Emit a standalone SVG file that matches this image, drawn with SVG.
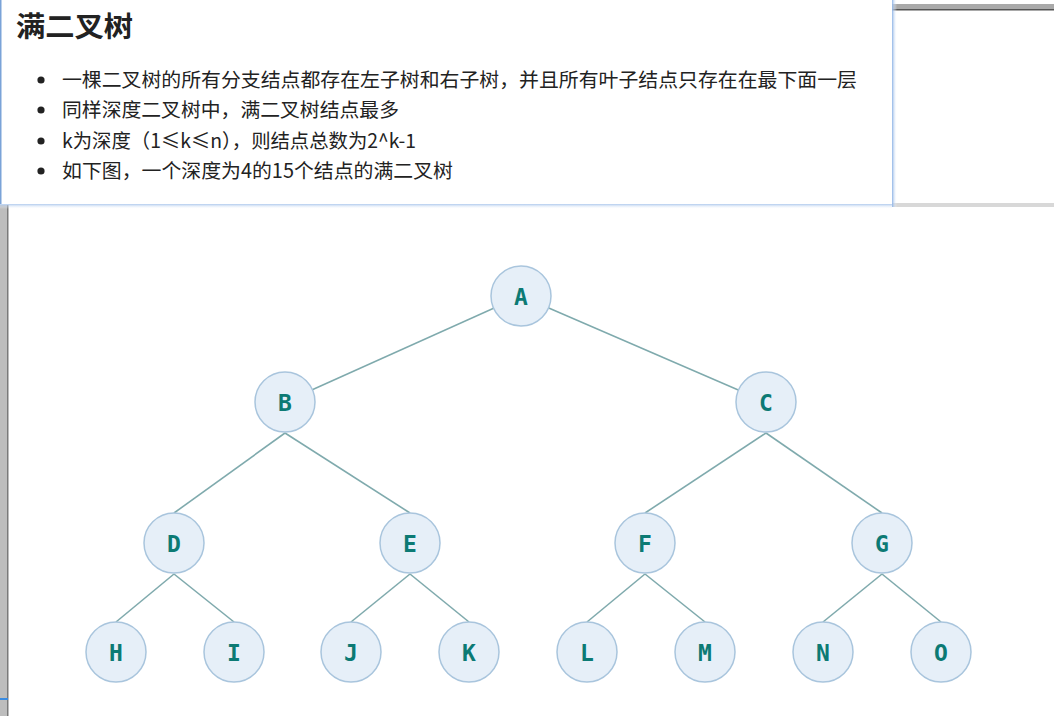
<svg xmlns="http://www.w3.org/2000/svg" width="1054" height="716" viewBox="0 0 1054 716">
<defs>
<linearGradient id="rshadow" x1="0" x2="1" y1="0" y2="0">
<stop offset="0" stop-color="#8fb4e6"/>
<stop offset="1" stop-color="#ffffff" stop-opacity="0"/>
</linearGradient>
<linearGradient id="bshadow" x1="0" x2="0" y1="0" y2="1">
<stop offset="0" stop-color="#8fb4e6"/>
<stop offset="1" stop-color="#ffffff" stop-opacity="0"/>
</linearGradient>
</defs>
<style>
.node circle{fill:#e6eff8;stroke:#a9c5dd;stroke-width:1.5}
.node text{font-family:"DejaVu Sans Mono",monospace;font-size:23px;font-weight:bold;fill:#0c7a74;text-anchor:middle;dominant-baseline:central}
#connectors line{stroke:#7faaad;stroke-width:1.6}
.cn{font-family:"Noto Sans CJK SC",sans-serif;font-size:19.8px;fill:#222}
</style>
<rect width="1054" height="716" fill="#ffffff"/>
<rect x="0" y="205" width="8" height="511" fill="#bdbdbd"/>
<rect x="7" y="205" width="1.5" height="511" fill="#7a7a7a"/>
<rect x="0" y="698" width="8" height="2" fill="#3a8be0"/>
<rect x="892" y="4" width="162" height="6" fill="#a9a9a9"/>
<rect x="892" y="9" width="162" height="1.5" fill="#555"/>
<rect x="892" y="203" width="162" height="4" fill="#d8d8d8"/>
<rect x="892" y="0" width="5" height="207" fill="url(#rshadow)"/>
<rect x="0" y="203" width="892" height="6" fill="url(#bshadow)"/>
<rect x="0" y="0" width="892" height="204" fill="#ffffff"/>
<rect x="0" y="0" width="1.5" height="204" fill="#7aa3d8"/>
<g id="panel-text">
<text x="16" y="37" textLength="117" lengthAdjust="spacingAndGlyphs" style="font-family:'Noto Sans CJK SC',sans-serif;font-size:28px;font-weight:bold;fill:#222">满二叉树</text>
<circle cx="41" cy="80" r="3.6" fill="#222"/>
<circle cx="41" cy="110" r="3.6" fill="#222"/>
<circle cx="41" cy="141" r="3.6" fill="#222"/>
<circle cx="41" cy="171" r="3.6" fill="#222"/>
<text class="cn" x="62" y="87" textLength="795" lengthAdjust="spacingAndGlyphs">一棵二叉树的所有分支结点都存在左子树和右子树，并且所有叶子结点只存在在最下面一层</text>
<text class="cn" x="62" y="117" textLength="337" lengthAdjust="spacingAndGlyphs">同样深度二叉树中，满二叉树结点最多</text>
<text class="cn" x="62" y="148" textLength="354" lengthAdjust="spacingAndGlyphs">k为深度（1≤k≤n），则结点总数为2^k-1</text>
<text class="cn" x="62" y="178" textLength="391" lengthAdjust="spacingAndGlyphs">如下图，一个深度为4的15个结点的满二叉树</text>
</g>
<g id="connectors">
<line x1="521" y1="296" x2="285" y2="402"/>
<line x1="521" y1="296" x2="766" y2="402"/>
<line x1="285" y1="433" x2="174" y2="513"/>
<line x1="285" y1="433" x2="410" y2="513"/>
<line x1="766" y1="433" x2="645" y2="513"/>
<line x1="766" y1="433" x2="882" y2="513"/>
<line x1="174" y1="574" x2="116" y2="622"/>
<line x1="174" y1="574" x2="234" y2="622"/>
<line x1="410" y1="574" x2="351" y2="622"/>
<line x1="410" y1="574" x2="469" y2="622"/>
<line x1="645" y1="574" x2="587" y2="622"/>
<line x1="645" y1="574" x2="705" y2="622"/>
<line x1="882" y1="574" x2="823" y2="622"/>
<line x1="882" y1="574" x2="941" y2="622"/>
</g>
<g id="node-A" class="node"><circle cx="521" cy="296" r="30"/><text x="521" y="297">A</text></g>
<g id="node-B" class="node"><circle cx="285" cy="402" r="30"/><text x="285" y="403">B</text></g>
<g id="node-C" class="node"><circle cx="766" cy="402" r="30"/><text x="766" y="403">C</text></g>
<g id="node-D" class="node"><circle cx="174" cy="543" r="30"/><text x="174" y="544">D</text></g>
<g id="node-E" class="node"><circle cx="410" cy="543" r="30"/><text x="410" y="544">E</text></g>
<g id="node-F" class="node"><circle cx="645" cy="543" r="30"/><text x="645" y="544">F</text></g>
<g id="node-G" class="node"><circle cx="882" cy="543" r="30"/><text x="882" y="544">G</text></g>
<g id="node-H" class="node"><circle cx="116" cy="652" r="30"/><text x="116" y="653">H</text></g>
<g id="node-I" class="node"><circle cx="234" cy="652" r="30"/><text x="234" y="653">I</text></g>
<g id="node-J" class="node"><circle cx="351" cy="652" r="30"/><text x="351" y="653">J</text></g>
<g id="node-K" class="node"><circle cx="469" cy="652" r="30"/><text x="469" y="653">K</text></g>
<g id="node-L" class="node"><circle cx="587" cy="652" r="30"/><text x="587" y="653">L</text></g>
<g id="node-M" class="node"><circle cx="705" cy="652" r="30"/><text x="705" y="653">M</text></g>
<g id="node-N" class="node"><circle cx="823" cy="652" r="30"/><text x="823" y="653">N</text></g>
<g id="node-O" class="node"><circle cx="941" cy="652" r="30"/><text x="941" y="653">O</text></g>
</svg>
